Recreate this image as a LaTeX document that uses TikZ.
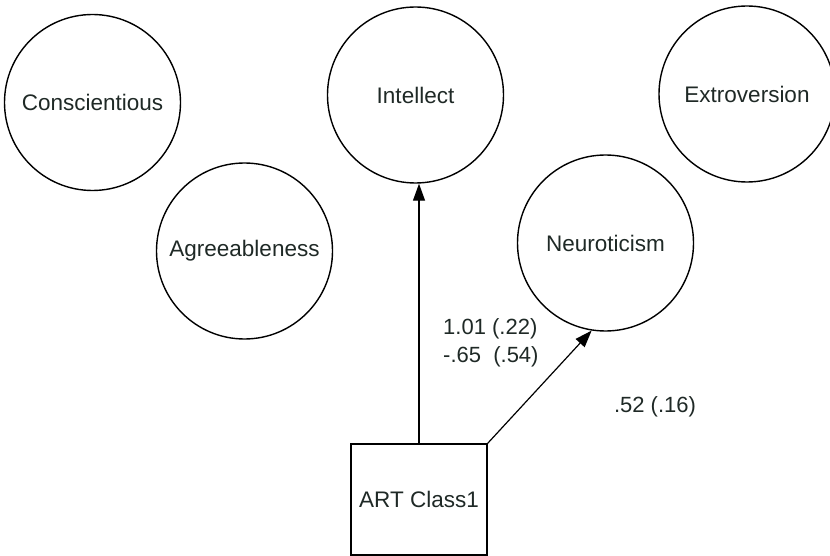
\documentclass[tikz,border=0pt]{standalone}
\usepackage{fontspec}
\setmainfont{Liberation Sans}
\usetikzlibrary{arrows.meta}
\definecolor{txt}{rgb}{0.12,0.16,0.15}
\tikzset{
  factor/.style={circle, draw=black, line width=1.4pt, minimum size=176pt, inner sep=0pt, text=txt, font=\fontsize{22.5}{27}\selectfont},
  itembox/.style={rectangle, draw=black, line width=1.4pt, minimum width=136pt, minimum height=111pt, inner sep=0pt, text=txt, font=\fontsize{22.5}{27}\selectfont},
  lbl/.style={text=txt, font=\fontsize{22}{28}\selectfont, inner sep=0pt},
  conn/.style={line width=1.2pt, -{Triangle[length=17pt,width=12pt]}}
}
\begin{document}
\begin{tikzpicture}[x=1pt,y=-1pt]
\useasboundingbox (0,0) rectangle (830,556);
\node[factor] (consc) at (92.5,102.5) {Conscientious};
\node[factor] (agree) at (244.5,251) {Agreeableness};
\node[factor] (intel) at (415.5,95) {Intellect};
\node[factor] (extro) at (747,94) {Extroversion};
\node[factor] (neur) at (605.5,243) {Neuroticism};
\node[itembox] (art) at (419,499.5) {ART Class1};
\draw[conn] (art.north) -- (art.north |- intel.south);
\draw[conn] (art.north east) -- (neur.261);
\node[lbl, anchor=west] (l1) at (443,329) {1.01 (.22)};
\node[lbl, anchor=west] (l2) at (443,357) {-.65~~(.54)};
\node[lbl] (l3) at (655,407) {.52 (.16)};
\end{tikzpicture}
\end{document}
